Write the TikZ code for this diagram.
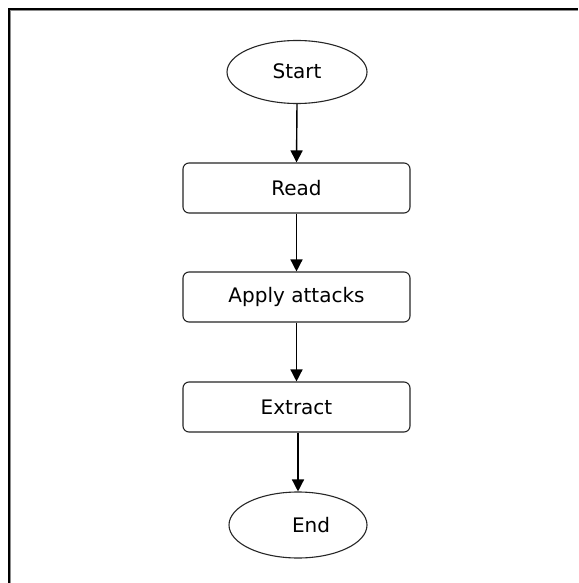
\documentclass[tikz,border=0pt]{standalone}
\usepackage{fontspec}
\setmainfont{DejaVu Sans}
\usetikzlibrary{shapes.geometric,arrows.meta}
\begin{document}
\begin{tikzpicture}[x=1pt,y=-1pt,
  procbox/.style={draw=black!85,line width=1.1pt,rounded corners=6pt,minimum width=227pt,minimum height=50pt,inner sep=0pt,font=\fontsize{20}{22}\selectfont},
  termnode/.style={draw=black!85,line width=1.1pt,ellipse,inner sep=0pt,font=\fontsize{20}{22}\selectfont},
  flow/.style={draw=black,line width=1.4pt,-{Triangle[length=12pt,width=12pt]}}]
\useasboundingbox (0,0) rectangle (578,583);
\fill[white] (0,0) rectangle (578,583);
% frame (top and left only)
\draw[black!45,line width=1pt] (10.5,583) -- (10.5,11) -- (578,11);
\draw[black,line width=2pt] (8.5,583) -- (8.5,9) -- (578,9);
\node[termnode,minimum width=140pt,minimum height=63pt] (start) at (297,72) {\raisebox{2pt}{Start}};
\node[procbox] (read) at (296.5,188) {Read};
\node[procbox] (apply) at (296.5,297) {Apply attacks};
\node[procbox] (extract) at (296.5,407) {Extract};
\node[termnode,minimum width=138pt,minimum height=66pt] (end) at (298,525) {\hspace*{26pt}End};
\draw[flow] (start.south) -- (read.north);
\draw[flow] (read.south) -- (apply.north);
\draw[flow] (apply.south) -- (extract.north);
\draw[flow] (extract.south -| end.north) -- (end.north);
\end{tikzpicture}
\end{document}
